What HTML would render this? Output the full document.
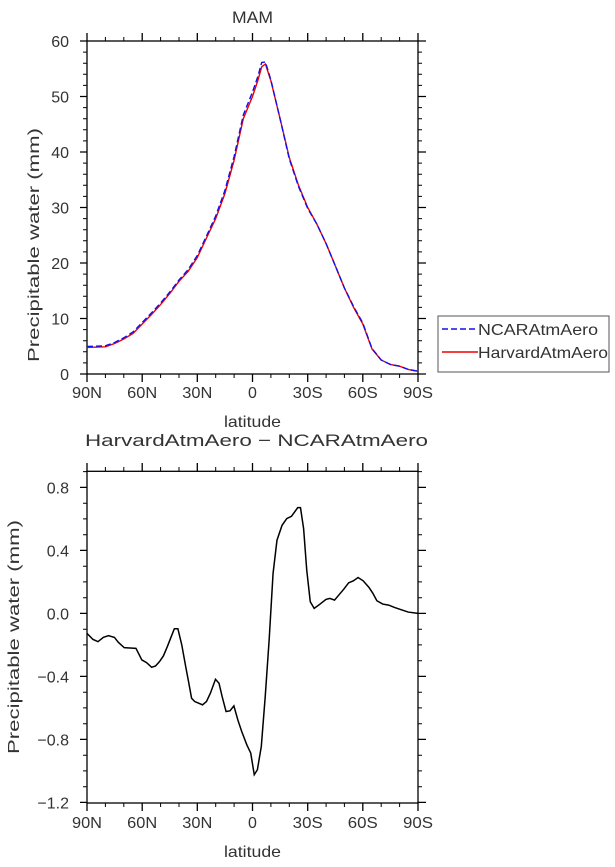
<!DOCTYPE html>
<html><head><style>
body{margin:0;background:#fff}
svg text{font-family:"Liberation Sans",sans-serif;fill:#333}
</style></head><body>
<svg width="615" height="862" viewBox="0 0 615 862" xmlns="http://www.w3.org/2000/svg">
<g id="top" stroke="#000" stroke-width="1.3" fill="none">
<rect x="87" y="41" width="331" height="333"/>
<path d="M80 41H87M80 96.5H87M80 152H87M80 207.5H87M80 263H87M80 318.5H87M80 374H87
M418 41H426M418 96.5H426M418 152H426M418 207.5H426M418 263H426M418 318.5H426M418 374H426"/>
<path stroke-width="1" d="M83 52.1H87M83 63.2H87M83 74.3H87M83 85.4H87M83 107.6H87M83 118.7H87M83 129.8H87M83 140.9H87M83 163.1H87M83 174.2H87M83 185.3H87M83 196.4H87M83 218.6H87M83 229.7H87M83 240.8H87M83 251.9H87M83 274.1H87M83 285.2H87M83 296.3H87M83 307.4H87M83 329.6H87M83 340.7H87M83 351.8H87M83 362.9H87
M418 52.1H422M418 63.2H422M418 74.3H422M418 85.4H422M418 107.6H422M418 118.7H422M418 129.8H422M418 140.9H422M418 163.1H422M418 174.2H422M418 185.3H422M418 196.4H422M418 218.6H422M418 229.7H422M418 240.8H422M418 251.9H422M418 274.1H422M418 285.2H422M418 296.3H422M418 307.4H422M418 329.6H422M418 340.7H422M418 351.8H422M418 362.9H422"/>
<path d="M87 374V382M142.2 374V382M197.3 374V382M252.5 374V382M307.7 374V382M362.8 374V382M418 374V382
M87 41V33M142.2 41V33M197.3 41V33M252.5 41V33M307.7 41V33M362.8 41V33M418 41V33"/>
<path stroke-width="1" d="M105.4 374V378M123.8 374V378M160.6 374V378M179 374V378M215.7 374V378M234.1 374V378M270.9 374V378M289.3 374V378M326.1 374V378M344.4 374V378M381.2 374V378M399.6 374V378
M105.4 41V37M123.8 41V37M160.6 41V37M179 41V37M215.7 41V37M234.1 41V37M270.9 41V37M289.3 41V37M326.1 41V37M344.4 41V37M381.2 41V37M399.6 41V37"/>
</g>
<polyline fill="none" stroke="#e00" stroke-width="1.4" points="87,347.4 105.4,346.8 114.6,343.5 123.8,339 133,333.5 142.2,324 151.4,314.6 160.6,304.6 169.8,293.5 179,281.3 188.2,271.3 197.3,257.5 206.5,238 215.7,218.6 224.9,193.6 234.1,160.3 243.3,118.7 252.5,96.5 258,80 261.7,66.8 265.4,64 270.9,80.8 280.1,118.7 289.3,157.6 298.5,185.3 307.7,207.5 316.9,224.2 326.1,243.6 335.3,265.8 344.4,288 353.6,307.4 362.8,324 372,349 381.2,360 390.4,364.5 399.6,366.2 408.8,369.6 418,371.2"/>
<polyline fill="none" stroke="#1010ee" stroke-width="1.4" stroke-dasharray="6,3" points="87,346.5 105.4,345.8 114.6,342.5 123.8,337.8 133,332 142.2,322.5 151.4,313 160.6,303 169.8,292 179,280 188.2,269.5 197.3,255.5 206.5,236 215.7,216 224.9,190.5 234.1,156.5 243.3,115 252.5,92 258,76 261.7,62.5 265.4,62 270.9,80 280.1,119 289.3,159 298.5,186.5 307.7,208.5 316.9,224.2 326.1,243.6 335.3,265.8 344.4,288 353.6,306.5 362.8,323 372,348.5 381.2,360 390.4,364.5 399.6,366.2 408.8,369.6 418,371.2"/>
<text x="232" y="23" font-size="17" textLength="41" lengthAdjust="spacingAndGlyphs">MAM</text>
<g font-size="16" text-anchor="end">
<text x="69" y="47">60</text><text x="69" y="102.5">50</text><text x="69" y="158">40</text><text x="69" y="213.5">30</text><text x="69" y="269">20</text><text x="69" y="324.5">10</text><text x="69" y="380">0</text>
</g>
<g font-size="16" text-anchor="middle">
<text x="87" y="398" textLength="30" lengthAdjust="spacingAndGlyphs">90N</text><text x="142.2" y="398" textLength="30" lengthAdjust="spacingAndGlyphs">60N</text><text x="197.3" y="398" textLength="30" lengthAdjust="spacingAndGlyphs">30N</text><text x="252.5" y="398">0</text><text x="307.7" y="398" textLength="30" lengthAdjust="spacingAndGlyphs">30S</text><text x="362.8" y="398" textLength="30" lengthAdjust="spacingAndGlyphs">60S</text><text x="418" y="398" textLength="30" lengthAdjust="spacingAndGlyphs">90S</text>
<text x="252.5" y="427" textLength="57" lengthAdjust="spacingAndGlyphs">latitude</text>
</g>
<text transform="translate(39,245) rotate(-90)" font-size="16" text-anchor="middle" textLength="234" lengthAdjust="spacingAndGlyphs">Precipitable water (mm)</text>
<rect x="438" y="316" width="171" height="56" fill="none" stroke="#555" stroke-width="1"/>
<line x1="442" y1="329" x2="478" y2="329" stroke="#1010ee" stroke-width="1.4" stroke-dasharray="6,3"/>
<line x1="442" y1="352" x2="478" y2="352" stroke="#e00" stroke-width="1.4"/>
<text x="478" y="335" font-size="16" textLength="120" lengthAdjust="spacingAndGlyphs">NCARAtmAero</text>
<text x="478" y="358" font-size="16" textLength="130" lengthAdjust="spacingAndGlyphs">HarvardAtmAero</text>

<g stroke="#000" stroke-width="1.3" fill="none">
<rect x="87" y="471.3" width="331" height="331.7"/>
<path d="M80 487.4H87M80 550.4H87M80 613.4H87M80 676.4H87M80 739.4H87M80 802.4H87
M418 487.4H426M418 550.4H426M418 613.4H426M418 676.4H426M418 739.4H426M418 802.4H426"/>
<path stroke-width="1" d="M83 471.6H87M83 503.2H87M83 518.9H87M83 534.7H87M83 566.2H87M83 581.9H87M83 597.7H87M83 629.2H87M83 644.9H87M83 660.7H87M83 692.2H87M83 707.9H87M83 723.7H87M83 755.2H87M83 770.9H87M83 786.7H87
M418 471.6H422M418 503.2H422M418 518.9H422M418 534.7H422M418 566.2H422M418 581.9H422M418 597.7H422M418 629.2H422M418 644.9H422M418 660.7H422M418 692.2H422M418 707.9H422M418 723.7H422M418 755.2H422M418 770.9H422M418 786.7H422"/>
<path d="M87 803V811M142.2 803V811M197.3 803V811M252.5 803V811M307.7 803V811M362.8 803V811M418 803V811
M87 471V463M142.2 471V463M197.3 471V463M252.5 471V463M307.7 471V463M362.8 471V463M418 471V463"/>
<path stroke-width="1" d="M105.4 803V807M123.8 803V807M160.6 803V807M179 803V807M215.7 803V807M234.1 803V807M270.9 803V807M289.3 803V807M326.1 803V807M344.4 803V807M381.2 803V807M399.6 803V807
M105.4 471V467M123.8 471V467M160.6 471V467M179 471V467M215.7 471V467M234.1 471V467M270.9 471V467M289.3 471V467M326.1 471V467M344.4 471V467M381.2 471V467M399.6 471V467"/>
</g>
<g transform="translate(87,613.4) scale(0.3917,0.3326) translate(-220,-550)">
<polyline fill="none" stroke="#000" stroke-width="1.5" vector-effect="non-scaling-stroke" points="220,610 235,628 248,635 262,622 275,617 290,622 300,637 315,653 330,654 345,655 360,690 372,698 385,712 395,708 405,695 415,678 425,650 435,620 443,596 452,596 462,645 472,710 480,760 487,805 495,815 515,825 525,815 535,790 548,748 557,760 565,800 575,845 585,843 595,828 605,870 615,905 628,945 638,970 647,1035 655,1020 665,950 675,800 685,630 695,430 705,330 718,285 730,265 742,258 758,232 765,232 773,295 781,420 790,515 800,535 815,522 830,508 840,505 852,510 862,496 875,478 888,458 900,452 912,442 925,452 940,472 950,490 960,512 975,522 990,525 1005,532 1020,538 1040,546 1065,550"/>
</g>
<text x="85" y="446" font-size="17" textLength="343" lengthAdjust="spacingAndGlyphs">HarvardAtmAero − NCARAtmAero</text>
<g font-size="16" text-anchor="end">
<text x="69" y="493.4">0.8</text><text x="69" y="619.4">0.0</text><text x="69" y="556.4">0.4</text><text x="69" y="682.4">−0.4</text><text x="69" y="745.4">−0.8</text><text x="69" y="808.4">−1.2</text>
</g>
<g font-size="16" text-anchor="middle">
<text x="87" y="828" textLength="30" lengthAdjust="spacingAndGlyphs">90N</text><text x="142.2" y="828" textLength="30" lengthAdjust="spacingAndGlyphs">60N</text><text x="197.3" y="828" textLength="30" lengthAdjust="spacingAndGlyphs">30N</text><text x="252.5" y="828">0</text><text x="307.7" y="828" textLength="30" lengthAdjust="spacingAndGlyphs">30S</text><text x="362.8" y="828" textLength="30" lengthAdjust="spacingAndGlyphs">60S</text><text x="418" y="828" textLength="30" lengthAdjust="spacingAndGlyphs">90S</text>
<text x="252.5" y="857" textLength="57" lengthAdjust="spacingAndGlyphs">latitude</text>
</g>
<text transform="translate(19,637) rotate(-90)" font-size="16" text-anchor="middle" textLength="234" lengthAdjust="spacingAndGlyphs">Precipitable water (mm)</text>
</svg>
</body></html>
